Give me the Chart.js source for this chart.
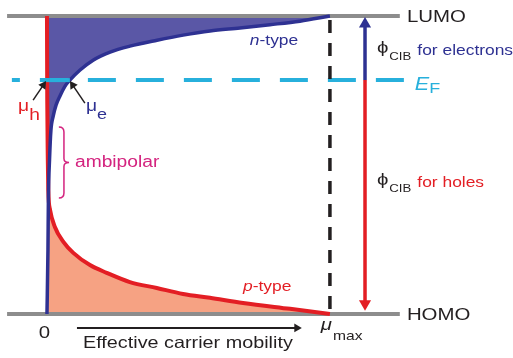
<!DOCTYPE html>
<html>
<head>
<meta charset="utf-8">
<script src="https://cdn.jsdelivr.net/npm/chart.js@4.4.1/dist/chart.umd.min.js"></script>
<style>
  body { margin: 0; background: #fff; }
  #wrap { width: 513px; height: 358px; position: relative; }
</style>
</head>
<body>
<div id="wrap"><canvas id="bandChart"></canvas></div>
<script>
// Energy axis: HOMO = 0, LUMO = 1. Mobility axis: 0 .. mu_max = 1
const levelHomo = 0;
const levelLumo = 1;
const levelFermi = 0.785;
const muMax = 1;

// n-type branch (electron mobility against energy)
const nTypeMobility = [0, 0.0035, 0.005, 0.009, 0.014, 0.022, 0.032, 0.046, 0.064, 0.081, 0.117, 0.163, 0.223, 0.293, 0.389, 0.481, 0.576, 0.682, 0.788, 0.894, 1];
const nTypeEnergy   = [0, 0.215, 0.383, 0.517, 0.617, 0.664, 0.701, 0.732, 0.765, 0.785, 0.819, 0.852, 0.879, 0.899, 0.919, 0.936, 0.950, 0.960, 0.971, 0.983, 1];

// p-type branch (hole mobility against energy)
const pTypeMobility = [0, 0.001, 0.003, 0.0046, 0.011, 0.028, 0.058, 0.093, 0.152, 0.211, 0.293, 0.388, 0.481, 0.576, 0.693, 0.859, 1];
const pTypeEnergy   = [1, 0.718, 0.517, 0.416, 0.349, 0.292, 0.242, 0.205, 0.164, 0.138, 0.107, 0.087, 0.067, 0.054, 0.037, 0.017, 0];

// extents of the level lines and markers (data units)
const levelSpan = [-0.141, 1.247];
const fermiSpan = [-0.124, 1.265];
const fermiCrossing = [-0.014, 0.081];   // mu_h .. mu_e
const cibArrowX = 1.124;
const axisArrowSpan = [0.106, 0.883];
const axisArrowY = -0.047;

const cNavy = '#2e3192', cRed = '#e31e24', cCyan = '#27b0dc', cGray = '#8d8d8d';
const cDark = '#231f20', cMagenta = '#d4237f';
const FONT = '"Liberation Sans", Arial, sans-serif';

function pts(xs, ys) { return xs.map((x, i) => ({ x: x, y: ys[i] })); }
function seg(x0, y0, x1, y1) { return [{ x: x0, y: y0 }, { x: x1, y: y1 }]; }

const nPoints = pts(nTypeMobility, nTypeEnergy);
const pPoints = pts(pTypeMobility, pTypeEnergy);

const labels = [
  { x: 1.272, y: 0.980, parts: [{ t: 'LUMO', f: '17px', c: cDark }] },
  { x: 1.272, y: -0.020, parts: [{ t: 'HOMO', f: '17px', c: cDark }] },
  { x: 1.300, y: 0.752, parts: [{ t: 'E', f: 'italic 18px', c: cCyan }, { t: 'F', f: '15px', c: cCyan, dy: 3 }] },
  { x: 1.166, y: 0.876, parts: [{ t: 'ϕ', f: '17px', c: cDark }, { t: 'CIB', f: '11px', c: cDark, dy: 7, dx: 1 },
                                { t: 'for electrons', f: '14.5px', c: cNavy, dy: 2, dx: 6 }] },
  { x: 1.166, y: 0.433, parts: [{ t: 'ϕ', f: '17px', c: cDark }, { t: 'CIB', f: '11px', c: cDark, dy: 7, dx: 1 },
                                { t: 'for holes', f: '14.5px', c: cRed, dy: 2, dx: 6 }] },
  { x: -0.102, y: 0.681, parts: [{ t: 'μ', f: '16px', c: cRed }, { t: 'h', f: '16px', c: cRed, dy: 9 }] },
  { x: 0.138, y: 0.681, parts: [{ t: 'μ', f: '16px', c: cNavy }, { t: 'e', f: '15px', c: cNavy, dy: 8 }] },
  { x: 0.099, y: 0.493, parts: [{ t: 'ambipolar', f: '16px', c: cMagenta }] },
  { x: 0.717, y: 0.903, parts: [{ t: 'n', f: 'italic 14.5px', c: cNavy }, { t: '-type', f: '14.5px', c: cNavy }] },
  { x: 0.693, y: 0.077, parts: [{ t: 'p', f: 'italic 14.5px', c: cRed }, { t: '-type', f: '14.5px', c: cRed }] },
  { x: -0.009, y: -0.081, align: 'center', parts: [{ t: '0', f: '17px', c: cDark }] },
  { x: 0.968, y: -0.054, parts: [{ t: 'μ', f: 'italic 17px', c: cDark }, { t: 'max', f: '13px', c: cDark, dy: 10, dx: 1 }] },
  { x: 0.498, y: -0.114, align: 'center', parts: [{ t: 'Effective carrier mobility', f: '16.5px', c: cDark }] }
];

// ambipolar brace (data units)
const braceTop = 0.628, braceBottom = 0.389, braceLeft = 0.042, braceTip = 0.078;

const textScale = 1.2;   // the source figure is stretched horizontally

function drawRich(ctx, label, xPix, yPix) {
  let total = 0;
  label.parts.forEach(p => {
    ctx.font = p.f + ' ' + FONT;
    p.w = ctx.measureText(p.t).width * textScale + (p.dx || 0);
    total += p.w;
  });
  let cx = label.align === 'center' ? xPix - total / 2 : xPix;
  label.parts.forEach(p => {
    ctx.save();
    ctx.font = p.f + ' ' + FONT;
    ctx.fillStyle = p.c;
    ctx.textBaseline = 'alphabetic';
    ctx.translate(cx + (p.dx || 0), yPix + (p.dy || 0));
    ctx.scale(textScale, 1);
    ctx.fillText(p.t, 0, 0);
    ctx.restore();
    cx += p.w;
  });
}

const annotations = {
  id: 'annotations',
  afterDatasetsDraw(chart) {
    const ctx = chart.ctx, xs = chart.scales.x, ys = chart.scales.y;
    // brace
    const xl = xs.getPixelForValue(braceLeft), xt = xs.getPixelForValue(braceTip);
    const xm = (xl + xt) / 2;
    const yt = ys.getPixelForValue(braceTop), yb = ys.getPixelForValue(braceBottom);
    const ym = (yt + yb) / 2;
    ctx.save();
    ctx.strokeStyle = cMagenta;
    ctx.lineWidth = 1.5;
    ctx.beginPath();
    ctx.moveTo(xl, yt);
    ctx.quadraticCurveTo(xm, yt, xm, yt + 5);
    ctx.lineTo(xm, ym - 4);
    ctx.quadraticCurveTo(xm, ym, xt, ym);
    ctx.quadraticCurveTo(xm, ym, xm, ym + 4);
    ctx.lineTo(xm, yb - 5);
    ctx.quadraticCurveTo(xm, yb, xl, yb);
    ctx.stroke();
    ctx.restore();
    labels.forEach(l => drawRich(ctx, l, xs.getPixelForValue(l.x), ys.getPixelForValue(l.y)));
  }
};

function lineSet(data, color, width, order, extra) {
  return Object.assign({
    data: data, borderColor: color, backgroundColor: color, borderWidth: width,
    pointRadius: 0, fill: false, order: order, clip: false,
    borderCapStyle: 'butt'
  }, extra || {});
}

function arrowSet(data, color, width, order, radius, rotation) {
  return lineSet(data, color, width, order, {
    pointRadius: [0, radius], pointStyle: 'triangle', pointRotation: rotation,
    pointBackgroundColor: color, pointBorderWidth: 0
  });
}

new Chart(document.getElementById('bandChart'), {
  type: 'line',
  data: {
    datasets: [
      lineSet(nPoints, 'rgba(0,0,0,0)', 0, 20, { fill: { value: levelLumo }, backgroundColor: '#5a57a6' }),
      lineSet(pPoints, 'rgba(0,0,0,0)', 0, 19, { fill: { value: levelHomo }, backgroundColor: '#f6a283' }),
      lineSet(seg(levelSpan[0], levelLumo, levelSpan[1], levelLumo), cGray, 4, 18),
      lineSet(seg(levelSpan[0], levelHomo, levelSpan[1], levelHomo), cGray, 4, 17),
      lineSet(pPoints, cRed, 4, 16, { cubicInterpolationMode: 'monotone' }),
      lineSet(nPoints, cNavy, 3.5, 15, { cubicInterpolationMode: 'monotone' }),
      lineSet(seg(fermiSpan[0], levelFermi, fermiSpan[1], levelFermi), cCyan, 4, 14,
              { borderDash: [28, 20], borderDashOffset: 20 }),
      lineSet(seg(fermiCrossing[0], levelFermi, fermiCrossing[1], levelFermi), cCyan, 4, 13),
      lineSet(seg(muMax, levelLumo, muMax, levelHomo), cDark, 3.5, 12, { borderDash: [13, 10], borderDashOffset: -4 }),
      arrowSet(seg(cibArrowX, levelFermi, cibArrowX, 0.973), cNavy, 3.5, 11, 7, 0),
      arrowSet(seg(cibArrowX, levelFermi, cibArrowX, 0.034), cRed, 3.5, 10, 7, 180),
      arrowSet(seg(axisArrowSpan[0], axisArrowY, axisArrowSpan[1], axisArrowY), cDark, 2, 9, 5, 90),
      arrowSet(seg(-0.049, 0.718, -0.013, 0.768), cDark, 1.5, 8, 5, 34),
      arrowSet(seg(0.134, 0.708, 0.091, 0.768), cDark, 1.5, 7, 5, 326)
    ]
  },
  options: {
    responsive: true,
    maintainAspectRatio: false,
    animation: false,
    events: [],
    layout: { padding: 0, autoPadding: false },
    scales: {
      x: { type: 'linear', min: -0.166, max: 1.647, display: false },
      y: { type: 'linear', min: -0.148, max: 1.054, display: false }
    },
    plugins: {
      legend: { display: false },
      tooltip: { enabled: false }
    }
  },
  plugins: [annotations]
});
</script>
</body>
</html>
